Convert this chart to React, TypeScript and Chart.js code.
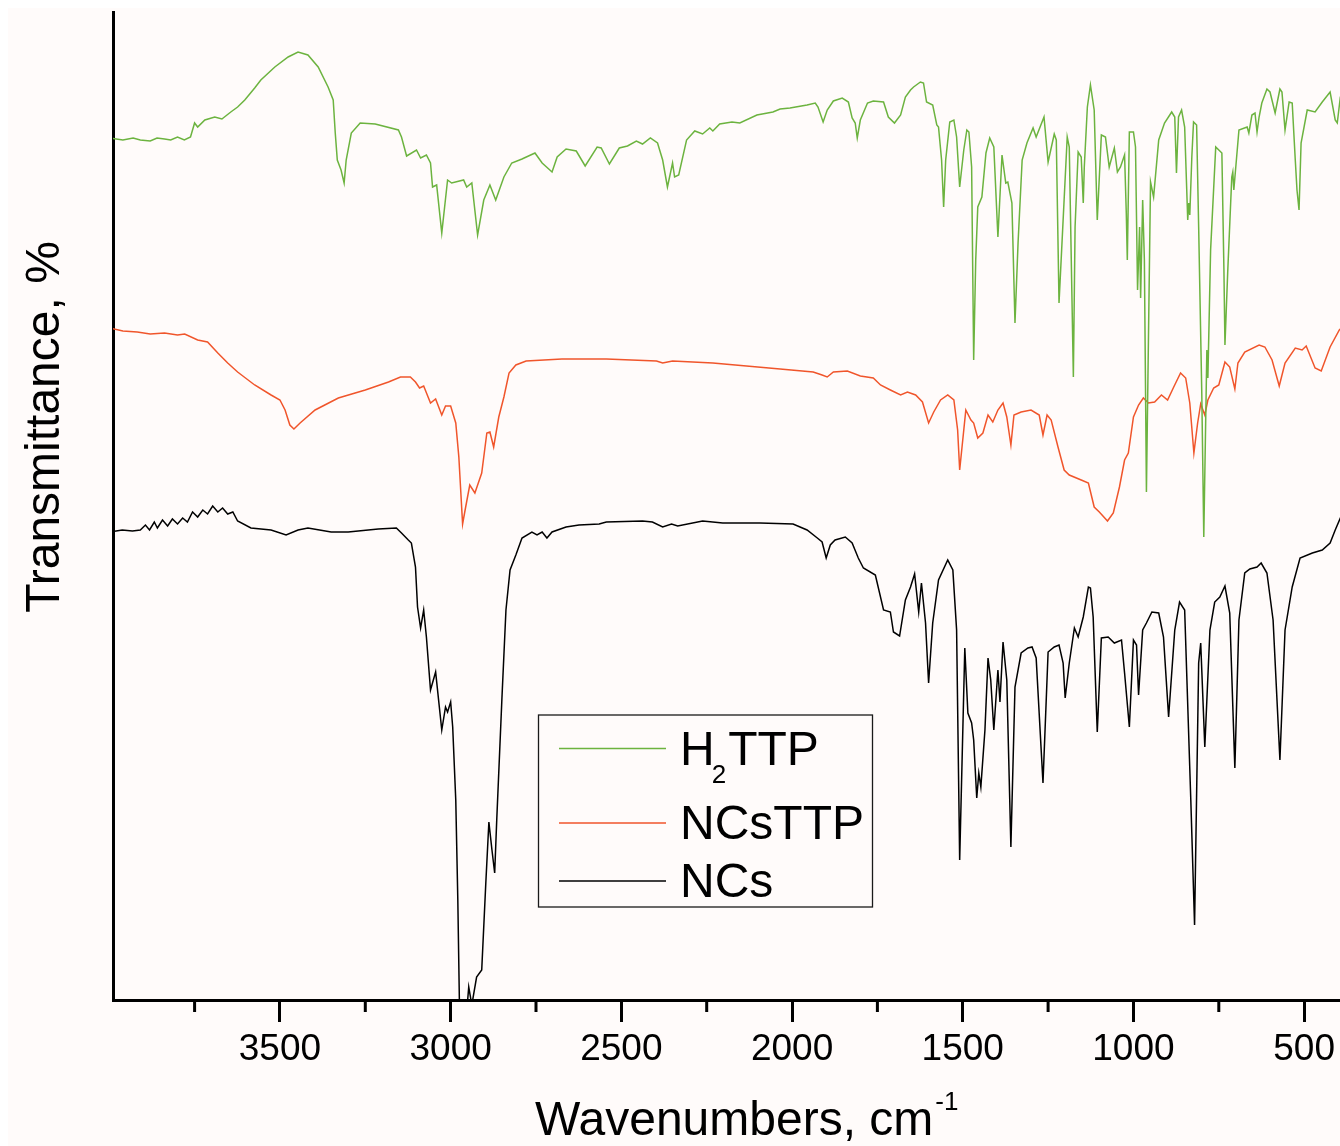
import { useEffect, useRef } from 'react';
import { Chart, registerables } from 'chart.js';

Chart.register(...registerables);

const FONT = "'Liberation Sans', Arial, Helvetica, sans-serif";
const BG = '#fffbfa';

// x axis (wavenumbers, cm-1), reversed
const X_MIN = 395;
const X_MAX = 3989;
const MAJOR_TICKS = [3500, 3000, 2500, 2000, 1500, 1000, 500];
const MINOR_TICKS = [3750, 3250, 2750, 2250, 1750, 1250, 750];
// transmittance, arbitrary units (spectra offset vertically)
const Y_MIN = -2;
const Y_MAX = 986;

const SERIES_LABELS = ['H₂TTP', 'NCsTTP', 'NCs'];
const SERIES_COLORS = ['#6cb33f', '#f0552b', '#000000'];

// [wavenumber, transmittance a.u.]
const H2TTP: [number, number][] = [
  [4000,860],[3960,858],[3930,860],[3909,858],[3880,857],[3860,860],[3838,859],[3820,858],[3800,861],[3780,858],[3762,861],[3750,875],[3741,871],[3720,878],[3691,881],[3670,879],[3644,886],[3624,891],[3603,898],[3574,910],[3556,918],[3515,931],[3476,941],[3447,946],[3418,943],[3388,931],[3359,911],[3344,898],[3338,865],[3332,838],[3321,828],[3312,815],[3306,838],[3291,865],[3265,875],[3221,874],[3153,868],[3144,861],[3129,842],[3100,848],[3088,840],[3071,843],[3059,835],[3053,811],[3041,813],[3026,765],[3009,818],[2997,815],[2962,818],[2953,811],[2938,815],[2921,763],[2903,798],[2885,813],[2868,798],[2844,821],[2821,835],[2791,839],[2753,845],[2732,835],[2703,826],[2688,841],[2662,849],[2632,847],[2606,832],[2571,851],[2559,850],[2535,834],[2506,850],[2482,852],[2456,857],[2438,854],[2415,860],[2394,855],[2379,838],[2365,811],[2350,835],[2344,821],[2332,823],[2309,858],[2285,867],[2262,864],[2241,870],[2232,867],[2212,874],[2176,876],[2153,875],[2103,883],[2056,886],[2035,889],[2006,890],[1956,893],[1932,895],[1924,891],[1909,876],[1897,888],[1879,897],[1853,900],[1835,896],[1824,880],[1815,875],[1809,860],[1800,878],[1779,895],[1762,897],[1732,896],[1718,881],[1700,875],[1682,883],[1668,901],[1653,908],[1644,911],[1624,916],[1615,915],[1606,896],[1588,893],[1576,873],[1571,871],[1562,838],[1556,791],[1550,838],[1538,876],[1526,878],[1518,861],[1509,811],[1497,848],[1488,868],[1482,866],[1474,831],[1468,638],[1462,738],[1456,791],[1444,801],[1432,845],[1421,860],[1409,851],[1397,761],[1385,843],[1374,815],[1368,816],[1356,795],[1347,675],[1338,755],[1326,838],[1312,855],[1294,870],[1285,861],[1262,881],[1250,836],[1232,864],[1226,858],[1218,695],[1206,778],[1194,861],[1188,851],[1176,621],[1171,771],[1162,846],[1153,841],[1147,795],[1144,831],[1135,891],[1126,913],[1115,888],[1106,778],[1094,863],[1082,861],[1071,831],[1056,850],[1047,826],[1038,831],[1026,843],[1021,785],[1018,738],[1012,866],[1000,866],[994,851],[988,708],[982,771],[979,700],[973,798],[968,738],[962,506],[950,816],[941,801],[926,858],[909,875],[888,886],[879,881],[874,825],[868,881],[859,888],[850,871],[841,778],[838,795],[835,783],[829,841],[824,876],[815,873],[809,771],[800,608],[794,461],[785,648],[782,620],[774,748],[759,851],[741,845],[735,728],[732,653],[724,725],[712,821],[709,826],[706,808],[691,868],[667,871],[662,865],[653,883],[644,885],[638,866],[632,881],[624,895],[609,909],[600,906],[585,885],[571,909],[565,906],[556,868],[544,896],[535,895],[526,838],[521,808],[515,788],[509,855],[491,888],[468,886],[447,896],[424,906],[409,878],[403,875],[394,901],[388,903],
];

const NCSTTP: [number, number][] = [
  [4000,670],[3960,667],[3918,666],[3880,664],[3838,665],[3800,663],[3779,664],[3741,658],[3712,656],[3682,645],[3653,635],[3624,626],[3574,613],[3526,603],[3500,598],[3485,588],[3471,573],[3459,569],[3441,575],[3397,588],[3329,600],[3250,608],[3182,616],[3147,621],[3118,621],[3103,616],[3091,610],[3079,612],[3059,595],[3044,599],[3026,583],[3015,592],[3000,592],[2985,575],[2976,541],[2965,474],[2956,491],[2944,513],[2929,505],[2909,525],[2894,565],[2885,566],[2874,551],[2859,581],[2844,601],[2829,625],[2809,633],[2779,637],[2674,639],[2544,639],[2397,637],[2379,635],[2350,637],[2232,635],[2035,629],[1938,626],[1912,623],[1897,621],[1879,626],[1838,627],[1800,622],[1762,620],[1741,613],[1712,608],[1682,603],[1662,606],[1638,603],[1618,596],[1600,575],[1585,586],[1565,598],[1544,603],[1526,598],[1515,568],[1509,528],[1497,568],[1491,588],[1476,578],[1468,575],[1456,560],[1441,565],[1426,583],[1412,576],[1397,588],[1382,595],[1371,581],[1359,553],[1350,583],[1329,586],[1300,588],[1276,583],[1265,563],[1253,583],[1241,578],[1221,551],[1203,528],[1188,523],[1153,518],[1132,515],[1115,491],[1100,486],[1076,477],[1059,485],[1041,511],[1026,538],[1015,545],[1000,581],[985,593],[971,600],[956,595],[938,596],[918,603],[900,598],[882,611],[862,625],[847,620],[835,595],[823,545],[812,575],[803,594],[791,583],[782,598],[765,610],[750,613],[732,636],[718,631],[703,609],[694,635],[674,646],[632,653],[615,651],[594,638],[573,612],[556,635],[526,650],[506,648],[494,652],[468,630],[450,627],[424,651],[397,668],[388,671],
];

const NCS: [number, number][] = [
  [4000,466],[3962,468],[3932,467],[3909,468],[3894,473],[3882,468],[3868,476],[3859,470],[3844,478],[3829,472],[3815,479],[3800,474],[3785,480],[3771,476],[3756,486],[3741,481],[3726,488],[3712,484],[3697,492],[3682,486],[3668,490],[3653,484],[3638,486],[3624,477],[3585,470],[3526,468],[3482,463],[3447,468],[3418,470],[3350,466],[3300,466],[3212,469],[3159,470],[3144,465],[3124,458],[3115,455],[3103,431],[3097,391],[3088,370],[3079,388],[3071,361],[3059,308],[3044,326],[3026,268],[3015,291],[3009,286],[3000,296],[2994,271],[2985,198],[2979,98],[2974,-12],[2965,-32],[2955,-22],[2947,11],[2938,-7],[2924,21],[2909,28],[2897,115],[2888,176],[2879,148],[2871,125],[2865,178],[2850,298],[2838,388],[2826,428],[2809,443],[2791,460],[2762,466],[2747,463],[2732,466],[2718,460],[2703,466],[2662,471],[2624,473],[2565,474],[2544,476],[2438,477],[2409,476],[2379,471],[2353,474],[2335,472],[2262,477],[2203,475],[2094,475],[1997,474],[1956,468],[1926,460],[1912,456],[1900,440],[1888,453],[1874,458],[1844,461],[1824,455],[1806,440],[1791,430],[1756,423],[1732,388],[1712,386],[1703,366],[1685,362],[1668,398],[1653,411],[1641,424],[1629,386],[1621,415],[1609,375],[1600,315],[1588,375],[1571,418],[1544,438],[1529,428],[1518,368],[1509,138],[1494,350],[1485,285],[1474,275],[1468,258],[1459,200],[1453,225],[1447,211],[1435,268],[1426,340],[1418,318],[1409,268],[1397,328],[1391,296],[1382,356],[1371,318],[1359,151],[1347,311],[1329,345],[1309,350],[1297,351],[1285,340],[1265,215],[1250,346],[1232,351],[1218,353],[1206,335],[1200,300],[1188,335],[1173,370],[1162,361],[1147,381],[1132,411],[1126,410],[1118,381],[1106,266],[1094,360],[1074,361],[1056,355],[1035,358],[1026,325],[1012,271],[1000,358],[991,353],[985,303],[973,368],[962,375],[946,386],[926,385],[912,361],[897,281],[879,368],[865,396],[850,388],[832,198],[821,73],[809,335],[803,355],[791,251],[776,368],[762,396],[747,401],[732,412],[718,385],[703,230],[691,378],[674,425],[659,429],[638,431],[626,435],[609,425],[591,378],[571,238],[556,368],[535,411],[512,440],[476,445],[447,448],[424,455],[409,468],[394,480],[388,480],
];

const SERIES_DATA = [H2TTP, NCSTTP, NCS];

const SUBS: Record<string, string> = { '₀': '0', '₁': '1', '₂': '2', '₃': '3' };
const SUPS: Record<string, string> = { '⁻': '-', '¹': '1', '²': '2' };

// draw text with sub/superscript characters; returns end x
function drawRich(ctx: CanvasRenderingContext2D, text: string, x: number, y: number, size: number) {
  const small = Math.round(size * 0.54);
  let cx = x;
  let buf = '';
  const flush = () => {
    if (!buf) return;
    ctx.font = `${size}px ${FONT}`;
    ctx.fillText(buf, cx, y);
    cx += ctx.measureText(buf).width;
    buf = '';
  };
  for (const ch of text) {
    if (SUBS[ch]) {
      flush();
      ctx.font = `${small}px ${FONT}`;
      const t = SUBS[ch];
      cx -= size * 0.06;
      ctx.fillText(t, cx, y + size * 0.38);
      cx += ctx.measureText(t).width + size * 0.04;
    } else if (SUPS[ch]) {
      flush();
      ctx.font = `${small}px ${FONT}`;
      const t = SUPS[ch];
      ctx.fillText(t, cx + 2, y - size * 0.52);
      cx += ctx.measureText(t).width;
    } else {
      buf += ch;
    }
  }
  flush();
  return cx;
}

const decorPlugin = {
  id: 'decor',
  beforeDraw(chart: any) {
    const c = chart.ctx as CanvasRenderingContext2D;
    c.save();
    c.fillStyle = BG;
    c.fillRect(0, 0, chart.width, chart.height);
    c.restore();
  },
  afterDraw(chart: any) {
    const c = chart.ctx as CanvasRenderingContext2D;
    const xs = chart.scales.x;
    c.save();
    // minor ticks
    c.fillStyle = '#000';
    for (const v of MINOR_TICKS) {
      const px = xs.getPixelForValue(v);
      c.fillRect(px - 1.5, xs.top, 3, 12);
    }
    // x title
    c.fillStyle = '#000';
    c.textBaseline = 'alphabetic';
    c.textAlign = 'left';
    drawRich(c, 'Wavenumbers, cm⁻¹', 527, 1127, 48);
    // y title
    c.save();
    c.translate(51, 419);
    c.rotate(-Math.PI / 2);
    c.textAlign = 'center';
    c.font = `48px ${FONT}`;
    c.fillText('Transmittance, %', 0, 0);
    c.restore();
    // legend
    const bx = 530.5, by = 707, bw = 334, bh = 192;
    c.fillStyle = BG;
    c.fillRect(bx, by, bw, bh);
    c.strokeStyle = '#1a1a1a';
    c.lineWidth = 1.3;
    c.strokeRect(bx, by, bw, bh);
    const lineY = [740.5, 815, 873];
    const textY = [757, 831, 889];
    SERIES_LABELS.forEach((lab, i) => {
      c.strokeStyle = SERIES_COLORS[i];
      c.lineWidth = 1.5;
      c.beginPath();
      c.moveTo(551, lineY[i]);
      c.lineTo(658, lineY[i]);
      c.stroke();
      c.fillStyle = '#000';
      c.textAlign = 'left';
      drawRich(c, lab, 672, textY[i], 48);
    });
    c.restore();
  },
};

export default function App() {
  const ref = useRef<HTMLCanvasElement>(null);
  useEffect(() => {
    if (!ref.current) return;
    const chart = new Chart(ref.current, {
      type: 'line',
      data: {
        datasets: SERIES_DATA.map((d, i) => ({
          label: SERIES_LABELS[i],
          data: d.map(([x, y]) => ({ x, y })),
          borderColor: SERIES_COLORS[i],
          backgroundColor: SERIES_COLORS[i],
          borderWidth: 1.5,
          pointRadius: 0,
          tension: 0,
          fill: false,
        })),
      },
      options: {
        responsive: false,
        animation: false,
        devicePixelRatio: 1,
        layout: { padding: { top: 4, left: 0, right: 0, bottom: 0 } },
        plugins: { legend: { display: false }, tooltip: { enabled: false } },
        scales: {
          x: {
            type: 'linear',
            reverse: true,
            min: X_MIN,
            max: X_MAX,
            afterBuildTicks: (scale: any) => {
              scale.ticks = MAJOR_TICKS.map((v) => ({ value: v }));
            },
            afterFit: (scale: any) => {
              scale.height = 146;
              scale.paddingLeft = 0;
              scale.paddingRight = 0;
            },
            ticks: {
              autoSkip: false,
              maxRotation: 0,
              padding: 6,
              color: '#000',
              font: { family: FONT, size: 37 },
              callback: (v: any) => String(v),
            },
            grid: {
              display: true,
              drawOnChartArea: false,
              drawTicks: true,
              tickLength: 22,
              tickWidth: 3,
              tickColor: '#000',
            },
            border: { display: true, color: '#000', width: 3 },
          },
          y: {
            type: 'linear',
            min: Y_MIN,
            max: Y_MAX,
            afterFit: (scale: any) => {
              scale.width = 105;
            },
            ticks: { display: false },
            grid: { display: false, drawTicks: false },
            border: { display: true, color: '#000', width: 3 },
          },
        },
      },
      plugins: [decorPlugin],
    } as any);
    return () => chart.destroy();
  }, []);
  return (
    <canvas
      ref={ref}
      width={1332}
      height={1138}
      style={{ display: 'block', position: 'fixed', left: 8, top: 8, width: 1332, height: 1138 }}
    />
  );
}
